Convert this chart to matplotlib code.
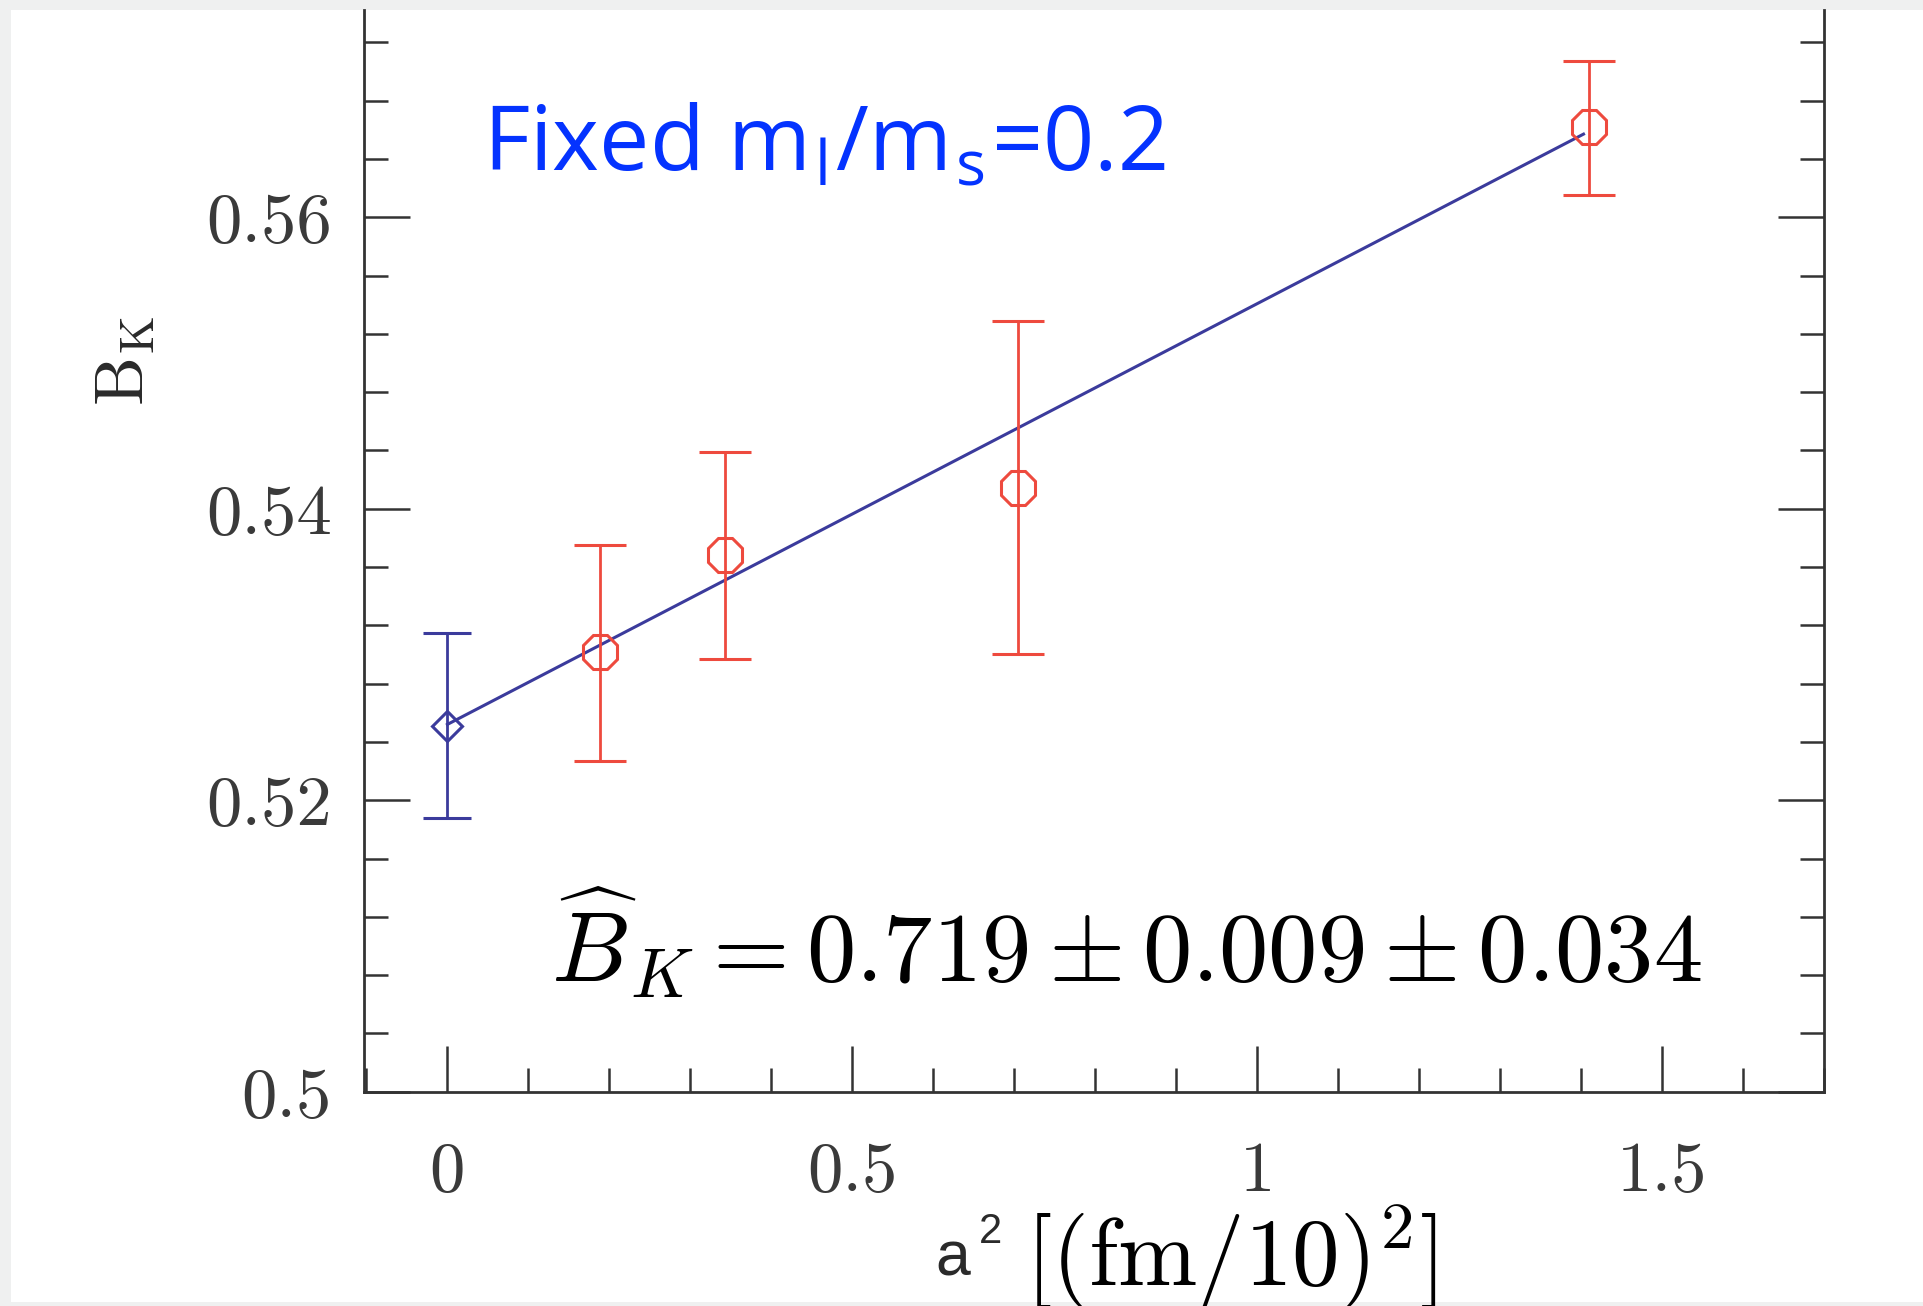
import matplotlib
matplotlib.use("Agg")
import matplotlib.pyplot as plt
from matplotlib.ticker import MultipleLocator, FixedLocator
from matplotlib.patches import Rectangle
import numpy as np

# ---- data ----
a2_red = [0.188, 0.343, 0.705, 1.410]
bk_red = [0.5302, 0.5368, 0.5414, 0.5662]
bk_red_lo = [0.5227, 0.5297, 0.5300, 0.5615]
bk_red_hi = [0.5375, 0.5439, 0.5529, 0.5707]

a2_cont = [0.0]
bk_cont = [0.5251]
bk_cont_lo = [0.5188]
bk_cont_hi = [0.5315]

fit_x = [0.0, 1.403]
fit_y = [0.5252, 0.5657]

yticks = [0.5, 0.52, 0.54, 0.56]
ytick_labels = ["0.5", "0.52", "0.54", "0.56"]
xticks = [0, 0.5, 1, 1.5]
xtick_labels = ["0", "0.5", "1", "1.5"]

title_text = r"Fixed m$_\mathregular{l}$/m$_\mathregular{s}$=0.2"
result_text = r"$\widehat{B}_K = 0.719 \pm 0.009 \pm 0.034$"

# ---- figure ----
W, H = 1924, 1306
DPI = 100
plt.rcParams["mathtext.fontset"] = "cm"
fig = plt.figure(figsize=(W / DPI, H / DPI), dpi=DPI)
fig.patch.set_facecolor("#eff0f0")
fig.add_artist(Rectangle((11 / W, 1 - 1302 / H), 1 - 11 / W, (1302 - 10) / H,
                         transform=fig.transFigure, facecolor="white",
                         edgecolor="none", zorder=0))

ax_l, ax_r = 364 / W, 1824 / W
ax_b, ax_t = 1 - 1091.7 / H, 1 - 10 / H
ax = fig.add_axes([ax_l, ax_b, ax_r - ax_l, ax_t - ax_b])
ax.set_facecolor("none")

red = "#ee4a3e"
blue = "#3b3b9c"
dark = "#333333"

ax.plot(fit_x, fit_y, color=blue, lw=2.2, zorder=2)

yerr_red = [np.array(bk_red) - np.array(bk_red_lo), np.array(bk_red_hi) - np.array(bk_red)]
ax.errorbar(a2_red, bk_red, yerr=yerr_red, fmt="8", ms=26, mfc="none", mec=red,
            mew=2.2, ecolor=red, elinewidth=2.0, capsize=18.5, capthick=2.0,
            zorder=3)
yerr_c = [np.array(bk_cont) - np.array(bk_cont_lo), np.array(bk_cont_hi) - np.array(bk_cont)]
ax.errorbar(a2_cont, bk_cont, yerr=yerr_c, fmt="D", ms=15.5, mfc="none", mec=blue,
            mew=2.2, ecolor=blue, elinewidth=2.0, capsize=17.5, capthick=2.0,
            zorder=3)

ax.set_xlim(-0.103, 1.70)
ax.set_ylim(0.5, 0.5 + (1091.7 - 10) / 291.5 * 0.02)

for s in ["left", "right", "bottom"]:
    ax.spines[s].set_linewidth(2.0)
    ax.spines[s].set_color(dark)
ax.spines["top"].set_visible(False)

ax.xaxis.set_major_locator(FixedLocator(xticks))
ax.xaxis.set_minor_locator(MultipleLocator(0.1))
ax.yaxis.set_major_locator(FixedLocator(yticks))
ax.yaxis.set_minor_locator(MultipleLocator(0.004))
ax.set_xticklabels(xtick_labels)
ax.set_yticklabels(ytick_labels)

ax.tick_params(axis="both", which="both", direction="in", color=dark, width=1.8)
ax.tick_params(axis="both", which="major", length=33)
ax.tick_params(axis="both", which="minor", length=17)
ax.tick_params(axis="y", which="both", left=True, right=True)
ax.tick_params(axis="x", which="both", top=False, bottom=True)
ax.tick_params(axis="y", which="major", pad=23, labelsize=51, labelcolor="#3a3a3a")
ax.tick_params(axis="x", which="major", pad=36, labelsize=51, labelcolor="#3a3a3a")
for lab in ax.get_xticklabels() + ax.get_yticklabels():
    lab.set_fontfamily("cmr10")

# y label
fig.text(124 / W, 1 - 361 / H, r"$\mathrm{B}_\mathrm{K}$", rotation=90,
         ha="center", va="center", fontsize=50, color="#2a2a2a")

# x label
fig.text(935 / W, 1 - 1276 / H, "a", family="Liberation Sans", fontsize=45,
         color="#2a2a2a", ha="left", va="baseline")
fig.text(979 / W, 1 - 1243 / H, "2", family="Liberation Sans", fontsize=30,
         color="#2a2a2a", ha="left", va="baseline")
fig.text(1025 / W, 1 - 1286 / H, r"$[(\mathrm{fm}/10)^2]$", fontsize=68.5,
         color="black", ha="left", va="baseline")

# annotations
fig.text(483 / W, 1 - 170.7 / H, title_text, family="Open Sans", fontsize=64.5,
         color="#0433ff", ha="left", va="baseline")
fig.text(551 / W, 1 - 981 / H, result_text, fontsize=71, color="black",
         ha="left", va="baseline")

fig.savefig("out.png", dpi=DPI, facecolor=fig.get_facecolor())
